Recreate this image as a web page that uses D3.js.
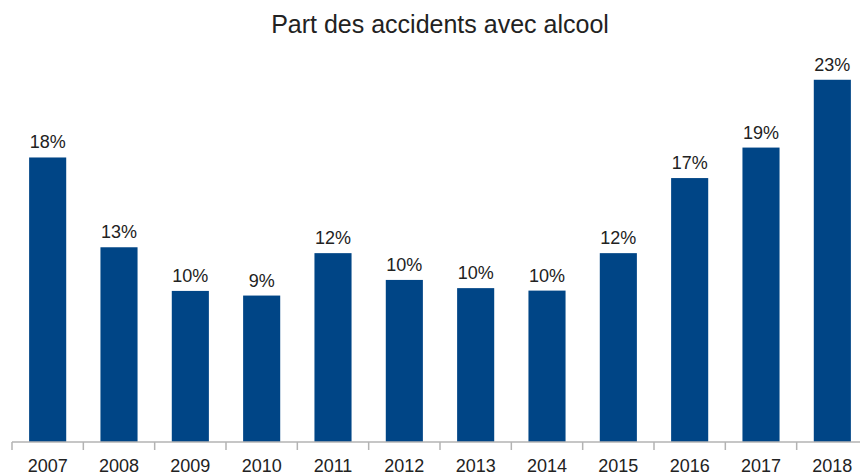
<!DOCTYPE html>
<html>
<head>
<meta charset="utf-8">
<script src="https://cdn.jsdelivr.net/npm/d3@7"></script>
<style>
  body { margin: 0; background: #fff; }
  svg { display: block; font-family: "Liberation Sans", Arial, sans-serif; }
</style>
</head>
<body>
<div id="container"></div>
<script>
const years = ["2007", "2008", "2009", "2010", "2011", "2012", "2013", "2014", "2015", "2016", "2017", "2018"];
const shares = [18.38, 12.58, 9.76, 9.46, 12.2, 10.47, 9.94, 9.78, 12.2, 17.05, 19.02, 23.4];
const title = "Part des accidents avec alcool";

const width = 860, height = 475;

const svg = d3.select("#container")
  .append("svg")
  .attr("width", width)
  .attr("height", height);

const x = d3.scaleBand().domain(years).range([12, 868]).paddingInner(0.48).paddingOuter(0.24);
const y = d3.scaleLinear().domain([0, 25]).range([442, 55]);

svg.append("text")
  .attr("x", 440)
  .attr("y", 33)
  .attr("text-anchor", "middle")
  .attr("font-size", 25)
  .attr("fill", "#222")
  .text(title);

svg.selectAll(".bar")
  .data(years)
  .enter()
  .append("rect")
  .attr("class", "bar")
  .attr("x", (d) => x(d))
  .attr("y", (d, i) => y(shares[i]))
  .attr("width", x.bandwidth())
  .attr("height", (d, i) => y(0) - y(shares[i]))
  .attr("fill", "#004586");

svg.selectAll(".label")
  .data(years)
  .enter()
  .append("text")
  .attr("class", "label")
  .attr("x", (d) => x(d) + x.bandwidth() / 2)
  .attr("y", (d, i) => y(shares[i]) - 9)
  .attr("text-anchor", "middle")
  .attr("font-size", 18)
  .attr("fill", "#222")
  .text((d, i) => Math.round(shares[i]) + "%");

// axis: line + ticks at band edges
const axis = svg.append("g").attr("stroke", "#b3b3b3").attr("stroke-width", 1.5);
axis.append("line")
  .attr("x1", 12).attr("x2", width)
  .attr("y1", y(0)).attr("y2", y(0));
axis.selectAll(".tick")
  .data(years)
  .enter()
  .append("line")
  .attr("x1", (d) => x(d) - x.step() * x.paddingInner() / 2)
  .attr("x2", (d) => x(d) - x.step() * x.paddingInner() / 2)
  .attr("y1", y(0))
  .attr("y2", y(0) + 8);

svg.selectAll(".year")
  .data(years)
  .enter()
  .append("text")
  .attr("class", "year")
  .attr("x", (d) => x(d) + x.bandwidth() / 2)
  .attr("y", 472)
  .attr("text-anchor", "middle")
  .attr("font-size", 18)
  .attr("fill", "#222")
  .text((d) => d);
</script>
</body>
</html>
